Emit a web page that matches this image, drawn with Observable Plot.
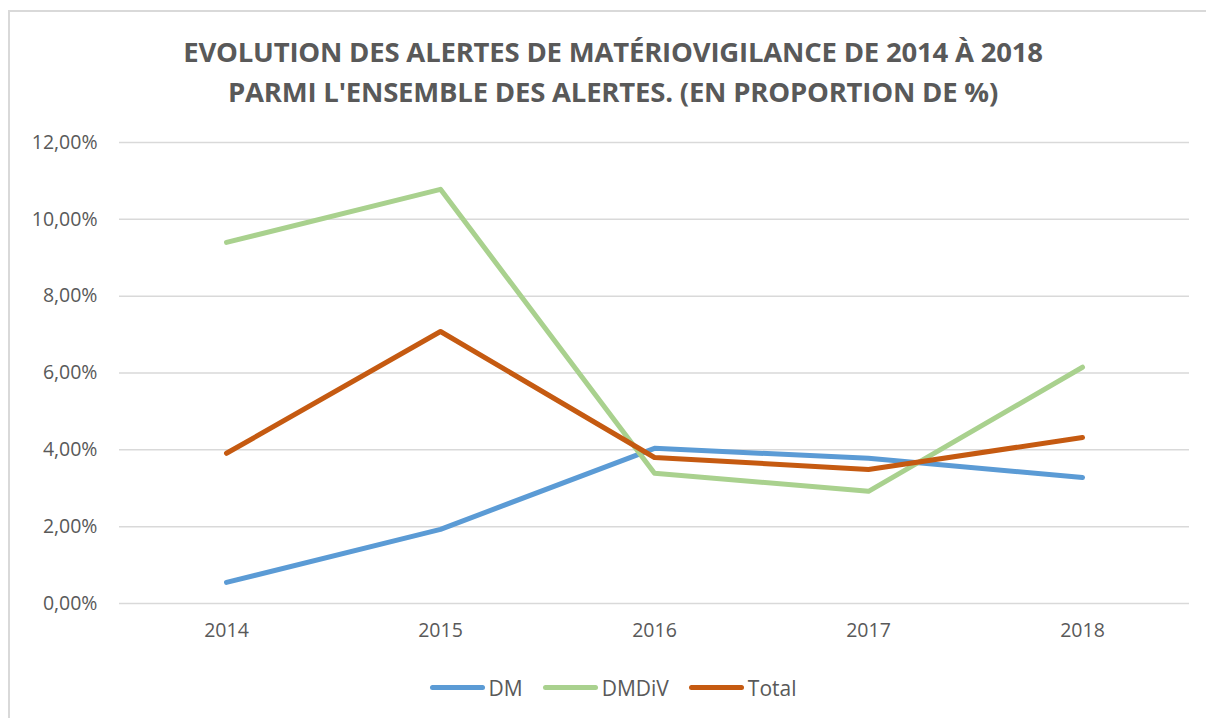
<!DOCTYPE html>
<html>
<head>
<meta charset="utf-8">
<script src="https://cdn.jsdelivr.net/npm/d3@7"></script>
<script src="https://cdn.jsdelivr.net/npm/@observablehq/plot@0.6"></script>
<style>
  html, body { margin: 0; padding: 0; background: #fff; width: 1206px; height: 718px; overflow: hidden; font-family: "Open Sans", sans-serif; }
  #frame { position: absolute; left: 8px; top: 10px; width: 1220px; height: 730px; border: 2px solid #d9d9d9; box-sizing: border-box; }
  #title { position: absolute; left: 0; top: 32px; width: 1226px; text-align: center; font-weight: 700; font-size: 27.5px; line-height: 40px; color: #595959; letter-spacing: -0.2px; }
  #chart { position: absolute; left: 0; top: 0; }
  #legend { position: absolute; left: 0; top: 668px; width: 1226px; text-align: center; font-size: 21px; line-height: 28px; color: #595959; }
  .item { display: inline-flex; align-items: center; margin: 0 10px; }
  .sw { display: inline-block; width: 55px; height: 5px; border-radius: 3px; margin-right: 4px; }
</style>
</head>
<body>
<div id="frame"></div>
<div id="title">EVOLUTION DES ALERTES DE MATÉRIOVIGILANCE DE 2014 À 2018<br>PARMI L'ENSEMBLE DES ALERTES. (EN PROPORTION DE %)</div>
<div id="chart"></div>
<div id="legend"></div>
<script>
const years = ["2014", "2015", "2016", "2017", "2018"];
const seriesNames = ["DM", "DMDiV", "Total"];
const seriesColors = ["#5b9bd5", "#a9d18e", "#c55a11"];
const dmValues = [0.0055, 0.0193, 0.0404, 0.0378, 0.0328];
const dmdivValues = [0.0940, 0.1078, 0.0339, 0.0292, 0.0615];
const totalValues = [0.0391, 0.0708, 0.0380, 0.0349, 0.0432];
const yTicks = [0, 0.02, 0.04, 0.06, 0.08, 0.10, 0.12];

const valuesBySeries = [dmValues, dmdivValues, totalValues];
const data = [];
seriesNames.forEach((s, i) => years.forEach((y, j) => data.push({series: s, year: y, value: valuesBySeries[i][j]})));

const fmt = v => d3.format(".2f")(v * 100).replace(".", ",") + "%";

const plot = Plot.plot({
  width: 1206,
  height: 670,
  marginTop: 142,
  marginBottom: 67,
  marginLeft: 119,
  marginRight: 17,
  style: { fontFamily: "Open Sans, sans-serif", fontSize: "19.5px", color: "#595959", background: "transparent" },
  x: { type: "point", domain: years, padding: 0.5, label: null, tickSize: 0, tickPadding: 20 },
  y: { domain: [0, 0.12], ticks: yTicks, tickFormat: fmt, label: null, tickSize: 0, tickPadding: 22 },
  color: { domain: seriesNames, range: seriesColors },
  marks: [
    Plot.ruleY(yTicks, { stroke: "#d9d9d9", strokeWidth: 1.5 }),
    Plot.line(data, { x: "year", y: "value", z: "series", stroke: "series", strokeWidth: 5, strokeLinecap: "round", strokeLinejoin: "round" })
  ]
});
document.getElementById("chart").appendChild(plot);

const legend = document.getElementById("legend");
seriesNames.forEach((s, i) => {
  const item = document.createElement("span");
  item.className = "item";
  const sw = document.createElement("span");
  sw.className = "sw";
  sw.style.background = seriesColors[i];
  item.appendChild(sw);
  item.appendChild(document.createTextNode(s));
  legend.appendChild(item);
});
</script>
</body>
</html>
